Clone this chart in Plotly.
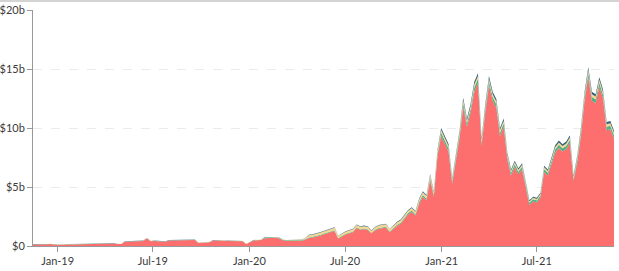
import pandas as pd
import plotly.graph_objects as go

dates = pd.date_range("2018-11-15", periods=159, freq="7D")

red = [
    0.12, 0.11, 0.13, 0.12, 0.14, 0.16, 0.08, 0.11, 0.12, 0.11,
    0.12, 0.13, 0.13, 0.16, 0.18, 0.19, 0.21, 0.20, 0.21, 0.22,
    0.21, 0.22, 0.21, 0.16, 0.16, 0.36, 0.38, 0.39, 0.40, 0.41,
    0.42, 0.66, 0.41, 0.42, 0.41, 0.42, 0.36, 0.46, 0.47, 0.46,
    0.50, 0.51, 0.52, 0.51, 0.51, 0.26, 0.30, 0.31, 0.32, 0.46,
    0.47, 0.46, 0.45, 0.42, 0.41, 0.42, 0.41, 0.41, 0.16, 0.31,
    0.46, 0.48, 0.51, 0.66, 0.68, 0.67, 0.69, 0.63, 0.48, 0.43,
    0.44, 0.42, 0.44, 0.43, 0.53, 0.67, 0.72, 0.77, 0.87, 0.97,
    1.07, 1.17, 1.27, 0.62, 0.82, 0.97, 1.07, 1.17, 1.52, 1.37,
    1.42, 1.37, 1.07, 1.32, 1.47, 1.52, 1.57, 1.17, 1.47, 1.72,
    1.88, 2.28, 2.68, 2.88, 2.58, 3.58, 4.18, 3.88, 5.58, 4.18,
    7.58, 9.3, 8.6, 8.0, 5.28, 7.18, 9.1, 11.8, 10.1, 11.3,
    13.1, 13.8, 8.5, 11.3, 13.6, 12.3, 11.7, 9.3, 10.1, 7.3,
    5.98, 6.68, 6.08, 6.48, 4.98, 3.48, 3.78, 3.68, 4.08, 6.28,
    5.98, 6.98, 7.9, 8.3, 8.0, 8.2, 8.7, 5.48, 7.08, 9.3,
    12.3, 14.3, 12.3, 12.1, 13.5, 12.5, 9.8, 9.9, 9.1,
]

green = [
    0.02, 0.02, 0.02, 0.02, 0.02, 0.02, 0.02, 0.02, 0.02, 0.02,
    0.02, 0.02, 0.02, 0.02, 0.02, 0.02, 0.02, 0.02, 0.02, 0.02,
    0.02, 0.02, 0.02, 0.02, 0.02, 0.02, 0.02, 0.02, 0.02, 0.02,
    0.02, 0.02, 0.02, 0.02, 0.02, 0.02, 0.02, 0.02, 0.02, 0.02,
    0.02, 0.02, 0.02, 0.02, 0.02, 0.02, 0.02, 0.02, 0.02, 0.02,
    0.02, 0.02, 0.02, 0.02, 0.02, 0.02, 0.02, 0.02, 0.02, 0.02,
    0.02, 0.03, 0.03, 0.05, 0.05, 0.05, 0.05, 0.05, 0.05, 0.05,
    0.05, 0.05, 0.05, 0.05, 0.05, 0.06, 0.06, 0.06, 0.06, 0.06,
    0.06, 0.06, 0.06, 0.06, 0.06, 0.06, 0.06, 0.06, 0.06, 0.06,
    0.06, 0.06, 0.05, 0.06, 0.06, 0.07, 0.07, 0.06, 0.07, 0.08,
    0.10, 0.10, 0.11, 0.12, 0.12, 0.14, 0.15, 0.15, 0.18, 0.16,
    0.22, 0.30, 0.30, 0.28, 0.22, 0.24, 0.30, 0.32, 0.30, 0.32,
    0.34, 0.35, 0.28, 0.32, 0.34, 0.33, 0.32, 0.30, 0.30, 0.26,
    0.22, 0.24, 0.22, 0.23, 0.20, 0.18, 0.18, 0.18, 0.19, 0.23,
    0.22, 0.24, 0.28, 0.28, 0.28, 0.28, 0.29, 0.22, 0.24, 0.30,
    0.33, 0.36, 0.33, 0.33, 0.34, 0.33, 0.30, 0.30, 0.29,
]

yellow = [
    0.01, 0.01, 0.01, 0.01, 0.01, 0.01, 0.01, 0.01, 0.01, 0.01,
    0.01, 0.01, 0.01, 0.01, 0.01, 0.01, 0.01, 0.01, 0.01, 0.01,
    0.01, 0.01, 0.01, 0.01, 0.01, 0.01, 0.01, 0.01, 0.01, 0.01,
    0.01, 0.01, 0.01, 0.01, 0.01, 0.01, 0.01, 0.01, 0.01, 0.01,
    0.01, 0.01, 0.01, 0.01, 0.01, 0.01, 0.01, 0.01, 0.01, 0.01,
    0.01, 0.01, 0.01, 0.01, 0.01, 0.01, 0.01, 0.01, 0.01, 0.01,
    0.01, 0.01, 0.01, 0.02, 0.02, 0.02, 0.02, 0.02, 0.02, 0.02,
    0.02, 0.02, 0.02, 0.05, 0.05, 0.18, 0.18, 0.19, 0.19, 0.20,
    0.20, 0.20, 0.21, 0.16, 0.17, 0.18, 0.18, 0.19, 0.20, 0.20,
    0.20, 0.20, 0.18, 0.19, 0.20, 0.20, 0.20, 0.18, 0.19, 0.20,
    0.20, 0.20, 0.20, 0.21, 0.20, 0.21, 0.22, 0.21, 0.22, 0.21,
    0.22, 0.22, 0.21, 0.20, 0.15, 0.18, 0.21, 0.23, 0.22, 0.23,
    0.24, 0.25, 0.21, 0.23, 0.24, 0.23, 0.23, 0.22, 0.22, 0.19,
    0.16, 0.17, 0.16, 0.17, 0.14, 0.12, 0.12, 0.12, 0.13, 0.16,
    0.16, 0.17, 0.19, 0.20, 0.19, 0.20, 0.20, 0.15, 0.17, 0.21,
    0.23, 0.25, 0.23, 0.23, 0.24, 0.23, 0.21, 0.21, 0.20,
]

blue = [
    0.01, 0.01, 0.01, 0.01, 0.01, 0.01, 0.01, 0.01, 0.01, 0.01,
    0.01, 0.01, 0.01, 0.01, 0.01, 0.01, 0.01, 0.01, 0.01, 0.01,
    0.01, 0.01, 0.01, 0.01, 0.01, 0.01, 0.01, 0.01, 0.01, 0.01,
    0.01, 0.01, 0.01, 0.01, 0.01, 0.01, 0.01, 0.01, 0.01, 0.01,
    0.01, 0.01, 0.01, 0.01, 0.01, 0.01, 0.01, 0.01, 0.01, 0.01,
    0.01, 0.01, 0.01, 0.01, 0.01, 0.01, 0.01, 0.01, 0.01, 0.01,
    0.01, 0.01, 0.01, 0.01, 0.01, 0.01, 0.01, 0.01, 0.01, 0.01,
    0.01, 0.01, 0.01, 0.02, 0.02, 0.04, 0.04, 0.04, 0.04, 0.04,
    0.04, 0.04, 0.05, 0.03, 0.04, 0.04, 0.04, 0.04, 0.05, 0.05,
    0.05, 0.05, 0.04, 0.05, 0.05, 0.05, 0.05, 0.04, 0.05, 0.05,
    0.06, 0.06, 0.07, 0.07, 0.07, 0.08, 0.09, 0.09, 0.11, 0.09,
    0.14, 0.18, 0.17, 0.16, 0.12, 0.15, 0.18, 0.21, 0.19, 0.21,
    0.23, 0.24, 0.17, 0.21, 0.23, 0.22, 0.21, 0.18, 0.19, 0.16,
    0.13, 0.14, 0.13, 0.14, 0.12, 0.10, 0.10, 0.10, 0.11, 0.14,
    0.13, 0.15, 0.16, 0.17, 0.16, 0.17, 0.17, 0.13, 0.15, 0.18,
    0.21, 0.24, 0.21, 0.21, 0.23, 0.21, 0.19, 0.19, 0.18,
]

y_tickvals = [0, 5, 10, 15, 20]
y_ticktext = ["$0", "$5b", "$10b", "$15b", "$20b"]

series = [
    ("Series A", red, "#FD6E6E"),
    ("Series B", green, "#56AE84"),
    ("Series C", yellow, "#F3D68F"),
    ("Series D", blue, "#35617A"),
]

fig = go.Figure()
for name, vals, col in series:
    fig.add_trace(go.Scatter(
        x=dates, y=vals, name=name, mode="lines",
        stackgroup="one", line=dict(width=0, color=col),
        fillcolor=col, hoverinfo="skip",
    ))

W, H = 619, 271
ML, MR, MT, MB = 33, 5, 10, 25
pw, ph = W - ML - MR, H - MT - MB

fig.update_layout(
    width=W, height=H,
    margin=dict(l=ML, r=MR, t=MT, b=MB),
    paper_bgcolor="white", plot_bgcolor="white",
    showlegend=False,
    font=dict(family="Lato, 'Open Sans', sans-serif", size=11, color="#3a3a3a"),
    shapes=[dict(
        type="line", xref="paper", yref="paper",
        x0=-ML / pw, x1=1 + MR / pw,
        y0=1 + (MT - 1) / ph, y1=1 + (MT - 1) / ph,
        line=dict(color="#D4D4D4", width=2),
    )],
)
fig.update_xaxes(
    range=["2018-11-15", "2021-11-25"],
    tickformat="%b-%y", dtick="M6", tick0="2019-01-01",
    showgrid=False, showline=True, linecolor="#999", linewidth=1,
    ticks="outside", ticklen=5, tickcolor="#999",
    tickfont=dict(size=11, color="#3a3a3a"), automargin=False,
)
fig.update_yaxes(
    range=[0, 20], tickvals=y_tickvals, ticktext=y_ticktext,
    showgrid=True, gridcolor="#EBEBEB", griddash="dash", gridwidth=1,
    showline=True, linecolor="#999", linewidth=1,
    ticks="outside", ticklen=5, tickcolor="#999",
    zeroline=False, automargin=False,
    tickfont=dict(size=11, color="#3a3a3a"),
)

fig.write_html("out.html")
